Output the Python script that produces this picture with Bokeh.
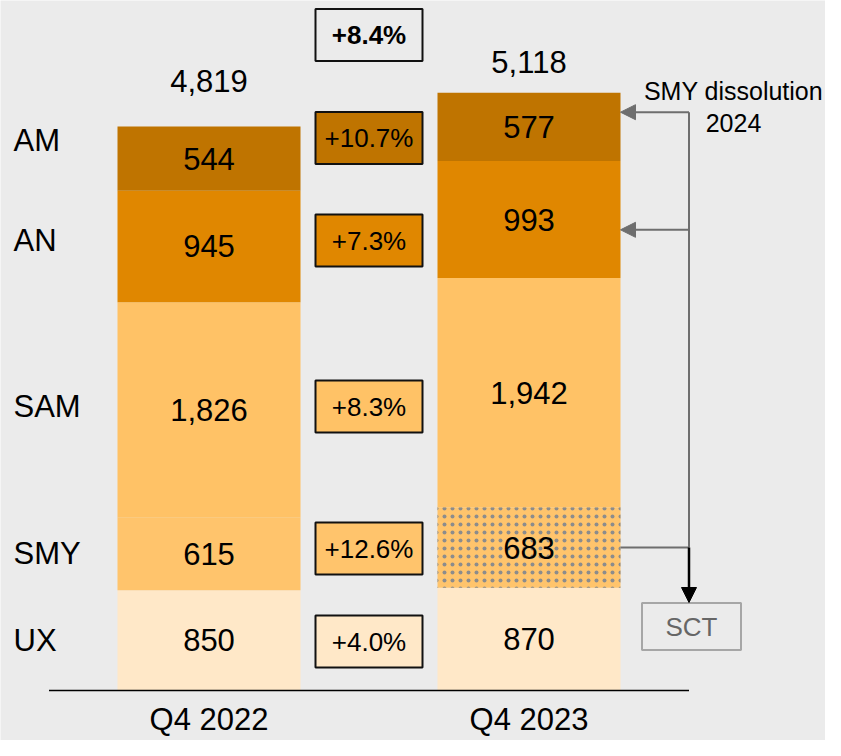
from bokeh.plotting import figure
from bokeh.models import Range1d, ColumnDataSource, Arrow, NormalHead
from bokeh.core.properties import value
from bokeh.embed import file_html
from bokeh.resources import INLINE
import numpy as np

# ---------------- data ----------------
categories = ["UX", "SMY", "SAM", "AN", "AM"]
periods = ["Q4 2022", "Q4 2023"]
values_2022 = [850, 615, 1826, 945, 544]
values_2023 = [870, 683, 1942, 993, 577]
totals = [4819, 5118]
growth = ["+4.0%", "+12.6%", "+8.3%", "+7.3%", "+10.7%"]
total_growth = "+8.4%"
note_lines = ["SMY dissolution", "2024"]
target_label = "SCT"

# ---------------- style / layout ----------------
FONT = "Liberation Sans"
BG = "#EBEBEB"
colors = {"UX": "#FFE8C8", "SMY": "#FFC46C", "SAM": "#FFC266",
          "AN": "#E08700", "AM": "#BF7400"}
GRAY = "#6E6E6E"

W, H = 825, 740
SPACING_PX = 320.0      # px between bar centres
SCALE = 0.118           # px per unit
X0_PX = 208.5           # canvas x of first bar centre
BASE_PX = 690.0         # canvas y of baseline
BAR_W = 183.0 / SPACING_PX


def dx(px):
    return px / SPACING_PX


def dy(px):
    return px / SCALE


p = figure(width=W, height=H,
           x_range=Range1d(-X0_PX / SPACING_PX, (W - X0_PX) / SPACING_PX),
           y_range=Range1d(-(H - BASE_PX) / SCALE, BASE_PX / SCALE),
           x_axis_type=None, y_axis_type=None,
           output_backend="svg", toolbar_location=None, min_border=0,
           background_fill_color=BG, border_fill_color=BG,
           outline_line_color=None)
p.grid.visible = False

series = [values_2022, values_2023]
xs, bottoms, tops, fills, hatches, labels, mids = [], [], [], [], [], [], []
for i, vals in enumerate(series):
    cum = np.concatenate([[0], np.cumsum(vals)])
    for j, cat in enumerate(categories):
        xs.append(i)
        bottoms.append(cum[j])
        tops.append(cum[j + 1])
        fills.append(colors[cat])
        hatches.append("." if (i == 1 and cat == "SMY") else " ")
        labels.append(f"{vals[j]:,}")
        mids.append((cum[j] + cum[j + 1]) / 2)

src = ColumnDataSource(dict(x=xs, bottom=bottoms, top=tops, fill=fills,
                            hatch=hatches, label=labels, mid=mids))
p.vbar(x="x", bottom="bottom", top="top", width=BAR_W, fill_color="fill",
       line_color=None, hatch_pattern="hatch", hatch_color="#8C8C8C",
       hatch_scale=8, hatch_weight=1.0, source=src)

p.text(x="x", y="mid", text="label", source=src, text_font=value(FONT),
       text_font_size=value("31px"), text_align="center",
       text_baseline="middle", text_color="black")

# totals above the stacks
stack_tops = [sum(v) for v in series]
total_offsets_px = [45, 31]
p.text(x=[0, 1], y=[t + dy(o) for t, o in zip(stack_tops, total_offsets_px)],
       text=[f"{t:,}" for t in totals], text_font=value(FONT),
       text_font_size=value("31px"), text_align="center",
       text_baseline="middle", text_color="black")

# baseline
p.segment(x0=[-0.5], y0=[0], x1=[1.5], y1=[0], line_color="black",
          line_width=1.5)

# period labels
p.text(x=[0, 1], y=[dy(-29)] * 2, text=periods, text_font=value(FONT),
       text_font_size=value("31px"), text_align="center",
       text_baseline="middle", text_color="black")

# category labels on the left
cat_label_px = [50, 137, 284, 450, 550.5]
p.text(x=[dx(13 - X0_PX)] * len(categories), y=[dy(v) for v in cat_label_px],
       text=categories, text_font=value(FONT), text_font_size=value("31px"),
       text_align="left", text_baseline="middle", text_color="black")

# growth boxes
box_px = [49, 142, 284, 450, 552.5]
box_y = [dy(v) for v in box_px]
p.rect(x=[0.5] * len(categories), y=box_y, width=107, height=52,
       width_units="screen", height_units="screen",
       fill_color=[colors[c] for c in categories], line_color="#111111",
       line_width=2)
p.text(x=[0.5] * len(categories), y=box_y, text=growth,
       text_font=value(FONT), text_font_size=value("26px"),
       text_align="center", text_baseline="middle", text_color="black")

tot_y = dy(655.5)
p.rect(x=[0.5], y=[tot_y], width=107, height=52, width_units="screen",
       height_units="screen", fill_color=BG, line_color="#111111",
       line_width=2)
p.text(x=[0.5], y=[tot_y], text=[total_growth], text_font=value(FONT),
       text_font_size=value("26px"), text_font_style="bold",
       text_align="center", text_baseline="middle", text_color="black")

# dissolution arrows
right_edge = 1 + BAR_W / 2
xa = 1.5
smy_mid = values_2023[0] + values_2023[1] / 2
y_top = dy(578.3)
y_an = dy(460.7)
for yy in [y_top, y_an]:
    p.add_layout(Arrow(end=NormalHead(size=15, fill_color=GRAY,
                                      line_color=GRAY),
                       x_start=xa, y_start=yy, x_end=right_edge, y_end=yy,
                       line_color=GRAY, line_width=2))
p.segment(x0=[xa, right_edge], y0=[y_top, smy_mid], x1=[xa, xa],
          y1=[smy_mid, smy_mid], line_color=GRAY, line_width=2)
p.add_layout(Arrow(end=NormalHead(size=15, fill_color="black",
                                  line_color="black"),
                   x_start=xa, y_start=smy_mid, x_end=xa, y_end=dy(88),
                   line_color="black", line_width=2.5))

# SCT box
sct_x = xa + dx(2.5)
sct_y = dy(64)
p.rect(x=[sct_x], y=[sct_y], width=99, height=47, width_units="screen",
       height_units="screen", fill_color=None, line_color="#A6A6A6",
       line_width=2)
p.text(x=[sct_x], y=[sct_y], text=[target_label], text_font=value(FONT),
       text_font_size=value("26px"), text_align="center",
       text_baseline="middle", text_color="#666666")

# note text
note_x = dx(733 - X0_PX)
p.text(x=[note_x] * 2, y=[dy(600), dy(567.5)], text=note_lines,
       text_font=value(FONT), text_font_size=value("25px"),
       text_align="center", text_baseline="middle", text_color="black")

open("out.html", "w").write(file_html(p, INLINE))
